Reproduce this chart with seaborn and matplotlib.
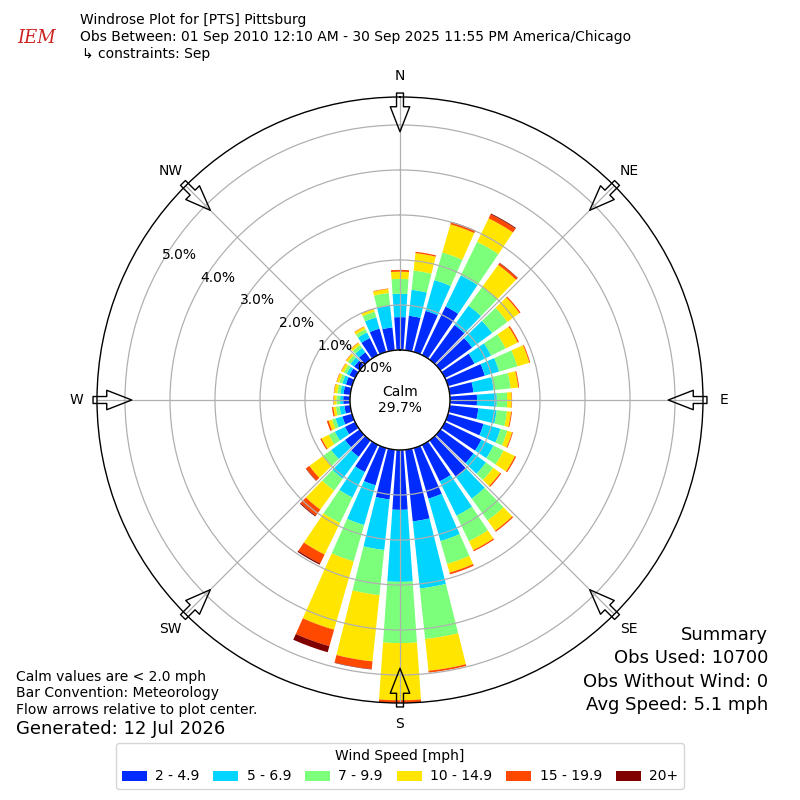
import numpy as np
import matplotlib
matplotlib.use("Agg")
import matplotlib.pyplot as plt
from matplotlib.patches import Patch
import seaborn as sns

# direction bins (deg, compass) and percent of obs per speed bin
directions = np.arange(0, 360, 10)
speed_labels = ["2 - 4.9", "5 - 6.9", "7 - 9.9", "10 - 14.9", "15 - 19.9", "20+"]
spd_2_5 = [0.73, 0.77, 0.95, 1.20, 0.95, 0.87, 0.73, 0.85, 0.53, 0.60, 0.64, 0.82,
           0.90, 0.91, 1.00, 0.90, 1.17, 1.60, 1.33, 1.11, 0.86, 0.67, 0.45, 0.40,
           0.25, 0.22, 0.13, 0.15, 0.15, 0.14, 0.14, 0.15, 0.20, 0.42, 0.54, 0.51]
spd_5_7 = [0.52, 0.58, 0.71, 0.77, 0.53, 0.55, 0.41, 0.33, 0.45, 0.44, 0.41, 0.39,
           0.30, 0.34, 0.60, 0.85, 0.98, 1.50, 1.60, 1.13, 0.92, 0.63, 0.60, 0.38,
           0.25, 0.16, 0.11, 0.07, 0.07, 0.08, 0.07, 0.10, 0.12, 0.14, 0.26, 0.49]
spd_7_10 = [0.33, 0.43, 0.64, 0.83, 0.52, 0.42, 0.36, 0.42, 0.38, 0.23, 0.23, 0.16,
            0.25, 0.20, 0.60, 0.63, 0.53, 1.13, 1.36, 1.01, 0.84, 0.63, 0.33, 0.22,
            0.15, 0.08, 0.08, 0.08, 0.07, 0.07, 0.07, 0.07, 0.08, 0.08, 0.13, 0.28]
spd_10_15 = [0.16, 0.39, 0.65, 0.58, 0.60, 0.33, 0.30, 0.28, 0.17, 0.10, 0.09, 0.11,
             0.28, 0.19, 0.28, 0.22, 0.20, 0.71, 1.27, 1.48, 1.58, 0.78, 0.52, 0.38,
             0.18, 0.08, 0.06, 0.06, 0.07, 0.06, 0.06, 0.05, 0.06, 0.06, 0.06, 0.09]
spd_15_20 = [0.04, 0.03, 0.05, 0.10, 0.05, 0.03, 0.03, 0.02, 0.02, 0.01, 0.02, 0.02,
             0.03, 0.03, 0.03, 0.03, 0.04, 0.04, 0.07, 0.17, 0.38, 0.22, 0.17, 0.09,
             0.03, 0.04, 0.03, 0.01, 0.01, 0.01, 0.01, 0.01, 0.01, 0.01, 0.01, 0.01]
spd_20p = [0.00, 0.00, 0.01, 0.02, 0.01, 0.00, 0.00, 0.00, 0.00, 0.00, 0.00, 0.00,
           0.00, 0.00, 0.00, 0.00, 0.00, 0.00, 0.00, 0.01, 0.14, 0.03, 0.02, 0.01,
           0.00, 0.00, 0.00, 0.00, 0.00, 0.00, 0.00, 0.00, 0.00, 0.00, 0.00, 0.00]
rings = [0, 1, 2, 3, 4, 5]
compass = ["N", "NE", "E", "SE", "S", "SW", "W", "NW"]
calm_pct = 29.7

sns.set_style("white")
plt.rcParams["font.family"] = ["DejaVu Sans"]
plt.rcParams["axes.axisbelow"] = "line"
plt.rcParams["text.color"] = "black"
plt.rcParams["legend.labelcolor"] = "black"

colors = sns.color_palette(["#002bff", "#00d4ff", "#7cff7a", "#ffe500", "#ff4800", "#800000"])
series = [spd_2_5, spd_5_7, spd_7_10, spd_10_15, spd_15_20, spd_20p]

fig = plt.figure(figsize=(8, 8), dpi=100)
ax = fig.add_axes([0.12125, 0.12125, 0.7575, 0.7575], projection="polar")
ax.set_theta_zero_location("N")
ax.set_theta_direction(-1)
rmax = 5.622
r0 = 1.111
ax.set_ylim(0, rmax)
ax.set_rorigin(-r0)

theta = np.deg2rad(directions)
width = np.deg2rad(8)
bottom = np.zeros(len(directions))
for vals, c in zip(series, colors):
    vals = np.array(vals)
    ax.bar(theta, vals, width=width, bottom=bottom, color=c, linewidth=0, zorder=1)
    bottom = bottom + vals

ax.set_xticks(np.deg2rad(np.arange(0, 360, 45)))
ax.set_xticklabels([])
ax.set_yticks(rings)
ax.set_yticklabels([])
ax.tick_params(length=0)
ax.grid(True, color="#b0b0b0", lw=0.9)
ax.spines["polar"].set_color("black")
ax.spines["polar"].set_linewidth(1.0)
ax.spines["inner"].set_color("black")
ax.spines["inner"].set_linewidth(1.0)

for r in rings:
    ax.text(np.deg2rad(300), r, f"{r:.1f}%", ha="left", va="bottom", fontsize=10)

# compass labels and inward flow arrows (outline only)
for i, lab in enumerate(compass):
    ang = np.deg2rad(i * 45)
    ax.text(ang, 6.09, lab, ha="center", va="center", fontsize=10, clip_on=False)
    ax.annotate("", xy=(ang, 4.85), xytext=(ang, 5.71), annotation_clip=False,
                arrowprops=dict(arrowstyle="simple,head_length=1.8,head_width=1.4,tail_width=0.5",
                                mutation_scale=10, fc="none", ec="black", lw=1,
                                shrinkA=0, shrinkB=0))

ax.text(0.5, 0.5, f"Calm\n{calm_pct}%", transform=ax.transAxes, ha="center",
        va="center", fontsize=10)

# header
fig.text(80 / 800, 1 - 20 / 800, "Windrose Plot for [PTS] Pittsburg", fontsize=10, va="center")
fig.text(80 / 800, 1 - 37 / 800,
         "Obs Between: 01 Sep 2010 12:10 AM - 30 Sep 2025 11:55 PM America/Chicago",
         fontsize=10, va="center")
fig.text(82 / 800, 1 - 54 / 800, "\u21b3 constraints: Sep", fontsize=10, va="center")
fig.text(37 / 800, 1 - 38 / 800, "IEM", fontsize=13, color="#cc2222", style="italic",
         family="serif", ha="center", va="center")

# footer notes
fig.text(16 / 800, 1 - 677 / 800, "Calm values are < 2.0 mph", fontsize=10, va="center")
fig.text(16 / 800, 1 - 693 / 800, "Bar Convention: Meteorology", fontsize=10, va="center")
fig.text(16 / 800, 1 - 710 / 800, "Flow arrows relative to plot center.", fontsize=10, va="center")
fig.text(16 / 800, 1 - 729 / 800, "Generated: 12 Jul 2026", fontsize=13, va="center")

summary = ["Summary", "Obs Used: 10700", "Obs Without Wind: 0", "Avg Speed: 5.1 mph"]
for y, s in zip([635, 658, 682, 705], summary):
    fig.text(768 / 800, 1 - y / 800, s, fontsize=13, ha="right", va="center")

handles = [Patch(facecolor=c, edgecolor="none") for c in colors]
leg = fig.legend(handles, speed_labels, loc="lower center", bbox_to_anchor=(0.5, 0.005),
                 ncol=6, title="Wind Speed [mph]", fontsize=10, title_fontsize=10,
                 handlelength=1.8, handletextpad=0.6, columnspacing=1.0, frameon=True)
leg.get_frame().set_edgecolor("#cccccc")

fig.savefig("out.png", dpi=100)
